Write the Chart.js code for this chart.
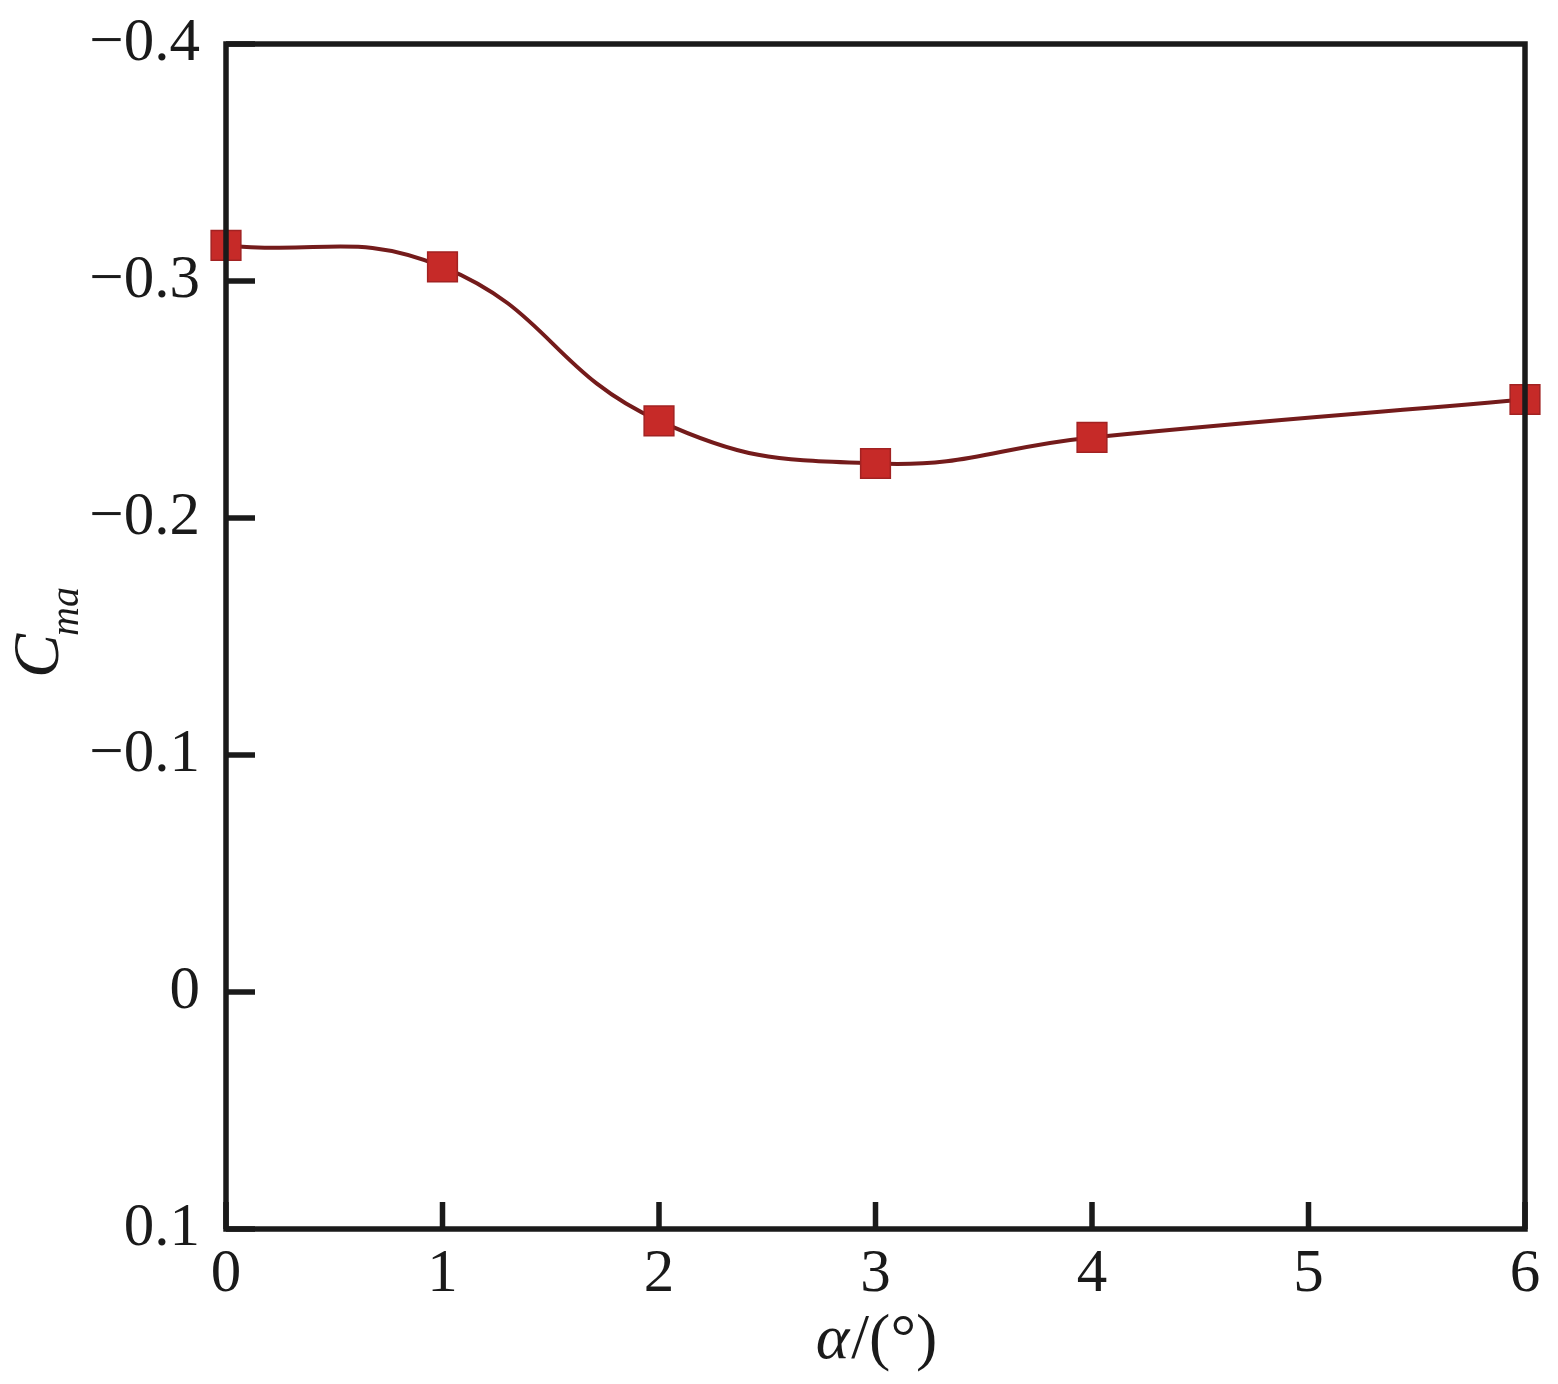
<!DOCTYPE html>
<html>
<head>
<meta charset="utf-8">
<script src="https://cdn.jsdelivr.net/npm/chart.js@4.4.1/dist/chart.umd.min.js"></script>
<style>
  html, body { margin: 0; padding: 0; background: #fff; }
  #wrap { width: 1558px; height: 1384px; }
</style>
</head>
<body>
<div id="wrap"><canvas id="chart"></canvas></div>
<script>
// data
const alpha = [0, 1, 2, 3, 4, 6];
const cma = [-0.315, -0.306, -0.241, -0.223, -0.234, -0.250];
const xTicks = [0, 1, 2, 3, 4, 5, 6];
const yTicks = [-0.4, -0.3, -0.2, -0.1, 0, 0.1];

const FONT = "'Liberation Serif', 'Times New Roman', serif";
const INK = "#1a1a1a";

function fmt(v) {
  let s = Number(v).toFixed(1);
  if (s === "0.0" || s === "-0.0") return "0";
  return s.replace("-", "\u2212");
}

// frame, inward ticks and axis titles
const framePlugin = {
  id: "frame",
  afterDatasetsDraw(chart) {
    const { ctx, chartArea: a, scales } = chart;
    ctx.save();
    ctx.strokeStyle = INK;
    ctx.lineWidth = 5.5;
    ctx.beginPath();
    xTicks.forEach(v => {
      const x = scales.x.getPixelForValue(v);
      ctx.moveTo(x, a.bottom);
      ctx.lineTo(x, a.bottom - 27);
    });
    yTicks.forEach(v => {
      const y = scales.y.getPixelForValue(v);
      ctx.moveTo(a.left, y);
      ctx.lineTo(a.left + 29, y);
    });
    ctx.stroke();
    ctx.strokeRect(a.left, a.top, a.right - a.left, a.bottom - a.top);
    ctx.restore();
  },
  afterDraw(chart) {
    const { ctx, chartArea: a } = chart;
    ctx.save();
    ctx.fillStyle = INK;
    ctx.textBaseline = "alphabetic";
    ctx.textAlign = "left";
    // x title: α/(°)
    const it = "italic 64px " + FONT, rm = "64px " + FONT;
    ctx.font = it;
    const w1 = ctx.measureText("\u03b1").width;
    ctx.font = rm;
    const w2 = ctx.measureText("/(\u00b0)").width;
    let x0 = (a.left + a.right) / 2 - (w1 + w2) / 2;
    ctx.font = it;
    ctx.fillText("\u03b1", x0, 1358);
    ctx.font = rm;
    ctx.fillText("/(\u00b0)", x0 + w1 + 2, 1358);
    // y title: C_ma rotated
    ctx.translate(58, 678);
    ctx.rotate(-Math.PI / 2);
    ctx.font = "italic 66px " + FONT;
    ctx.fillText("C", 0, 0);
    const wc = ctx.measureText("C").width;
    ctx.font = "italic 40px " + FONT;
    ctx.fillText("ma", wc - 2, 20);
    ctx.restore();
  }
};

new Chart(document.getElementById("chart"), {
  type: "line",
  data: {
    datasets: [{
      data: alpha.map((a, i) => ({ x: a, y: cma[i] })),
      borderColor: "#741b1b",
      borderWidth: 4,
      tension: 0.45,
      pointStyle: "rect",
      pointRadius: 21,
      pointBackgroundColor: "#c62a28",
      pointBorderColor: "#a22222",
      pointBorderWidth: 1.5,
      clip: false
    }]
  },
  options: {
    responsive: true,
    maintainAspectRatio: false,
    animation: false,
    events: [],
    layout: { padding: { left: 0, right: 33, top: 44, bottom: 0 } },
    plugins: { legend: { display: false }, tooltip: { enabled: false } },
    scales: {
      x: {
        type: "linear",
        min: 0, max: 6,
        afterFit(s) { s.height = 155; s.paddingLeft = 0; s.paddingRight = 0; },
        afterBuildTicks(s) { s.ticks = xTicks.map(v => ({ value: v })); },
        grid: { display: false, drawTicks: false },
        border: { display: false },
        ticks: { color: INK, font: { family: FONT, size: 61 }, padding: 9, maxRotation: 0 }
      },
      y: {
        type: "linear",
        reverse: true,
        min: -0.4, max: 0.1,
        afterFit(s) { s.width = 226; s.paddingTop = 0; s.paddingBottom = 0; },
        afterBuildTicks(s) { s.ticks = yTicks.map(v => ({ value: v })); },
        grid: { display: false, drawTicks: false },
        border: { display: false },
        ticks: { color: INK, font: { family: FONT, size: 61 }, padding: 26, callback: v => fmt(v) }
      }
    }
  },
  plugins: [framePlugin]
});
</script>
</body>
</html>
